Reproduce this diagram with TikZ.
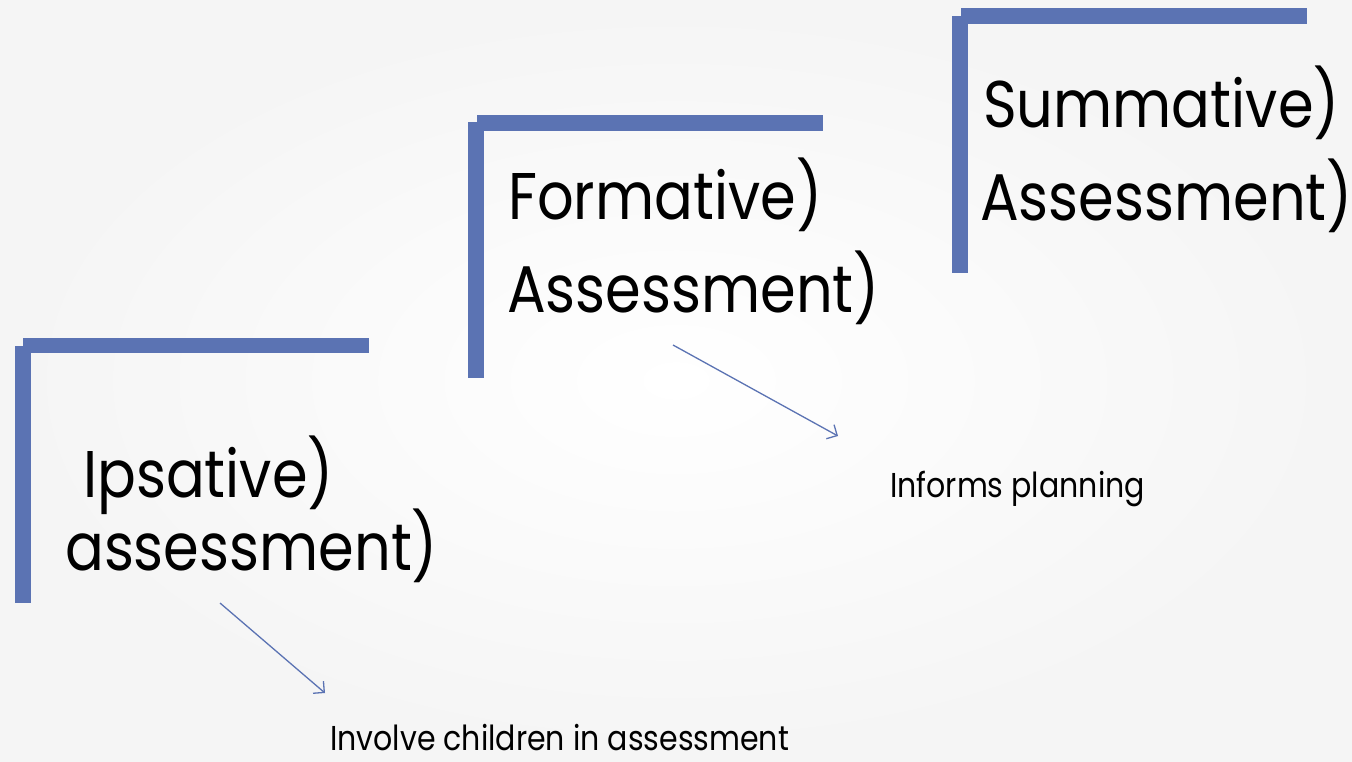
\documentclass[tikz,border=0pt]{standalone}
\usepackage{fontspec}
\setmainfont{Poppins}[FakeStretch=0.87]
\usetikzlibrary{arrows.meta}
\definecolor{barblue}{RGB}{91,115,179}
\begin{document}
\begin{tikzpicture}[x=1pt, y=-1pt,
    bar/.style={fill=barblue, draw=none},
    big/.style={font=\fontsize{66}{80}\selectfont, anchor=base west, inner sep=0pt},
    small/.style={font=\fontsize{34.5}{40}\selectfont, anchor=base west, inner sep=0pt},
    link/.style={draw=barblue, line width=1.3pt, -{Straight Barb[length=8pt, width=16pt]}}]

    \shade[inner color=white, outer color=black!4] (0,0) rectangle (1352,761);
    \useasboundingbox (0,0) rectangle (1352,761);

    \fill[bar] (23,338) rectangle (369,353);
    \fill[bar] (15,346) rectangle (31,603);
    \fill[bar] (477,115) rectangle (823,131);
    \fill[bar] (468,122) rectangle (484,378);
    \fill[bar] (961,8) rectangle (1307,24);
    \fill[bar] (952,16) rectangle (968,273);

    \node [big] (ips1) at (83,497) {Ipsative)};
    \node [big] (ips2) at (65,570) {assessment)};
    \node [big] (form1) at (508,219) {Formative)};
    \node [big] (form2) at (507,312) {Assessment)};
    \node [big] (sum1) at (983,127) {Summative)};
    \node [big] (sum2) at (980,220) {Assessment)};

    \node [small] (inv) at (330,750) {Involve children in assessment};
    \node [small] (inf) at (890,497) {Informs planning};

    \coordinate (ipsfrom) at (220,603);
    \coordinate (ipsto) at (325,693);
    \coordinate (formfrom) at (673,345);
    \coordinate (formto) at (838,436);
    \draw [link] (ipsfrom) -- (ipsto);
    \draw [link] (formfrom) -- (formto);
\end{tikzpicture}
\end{document}
